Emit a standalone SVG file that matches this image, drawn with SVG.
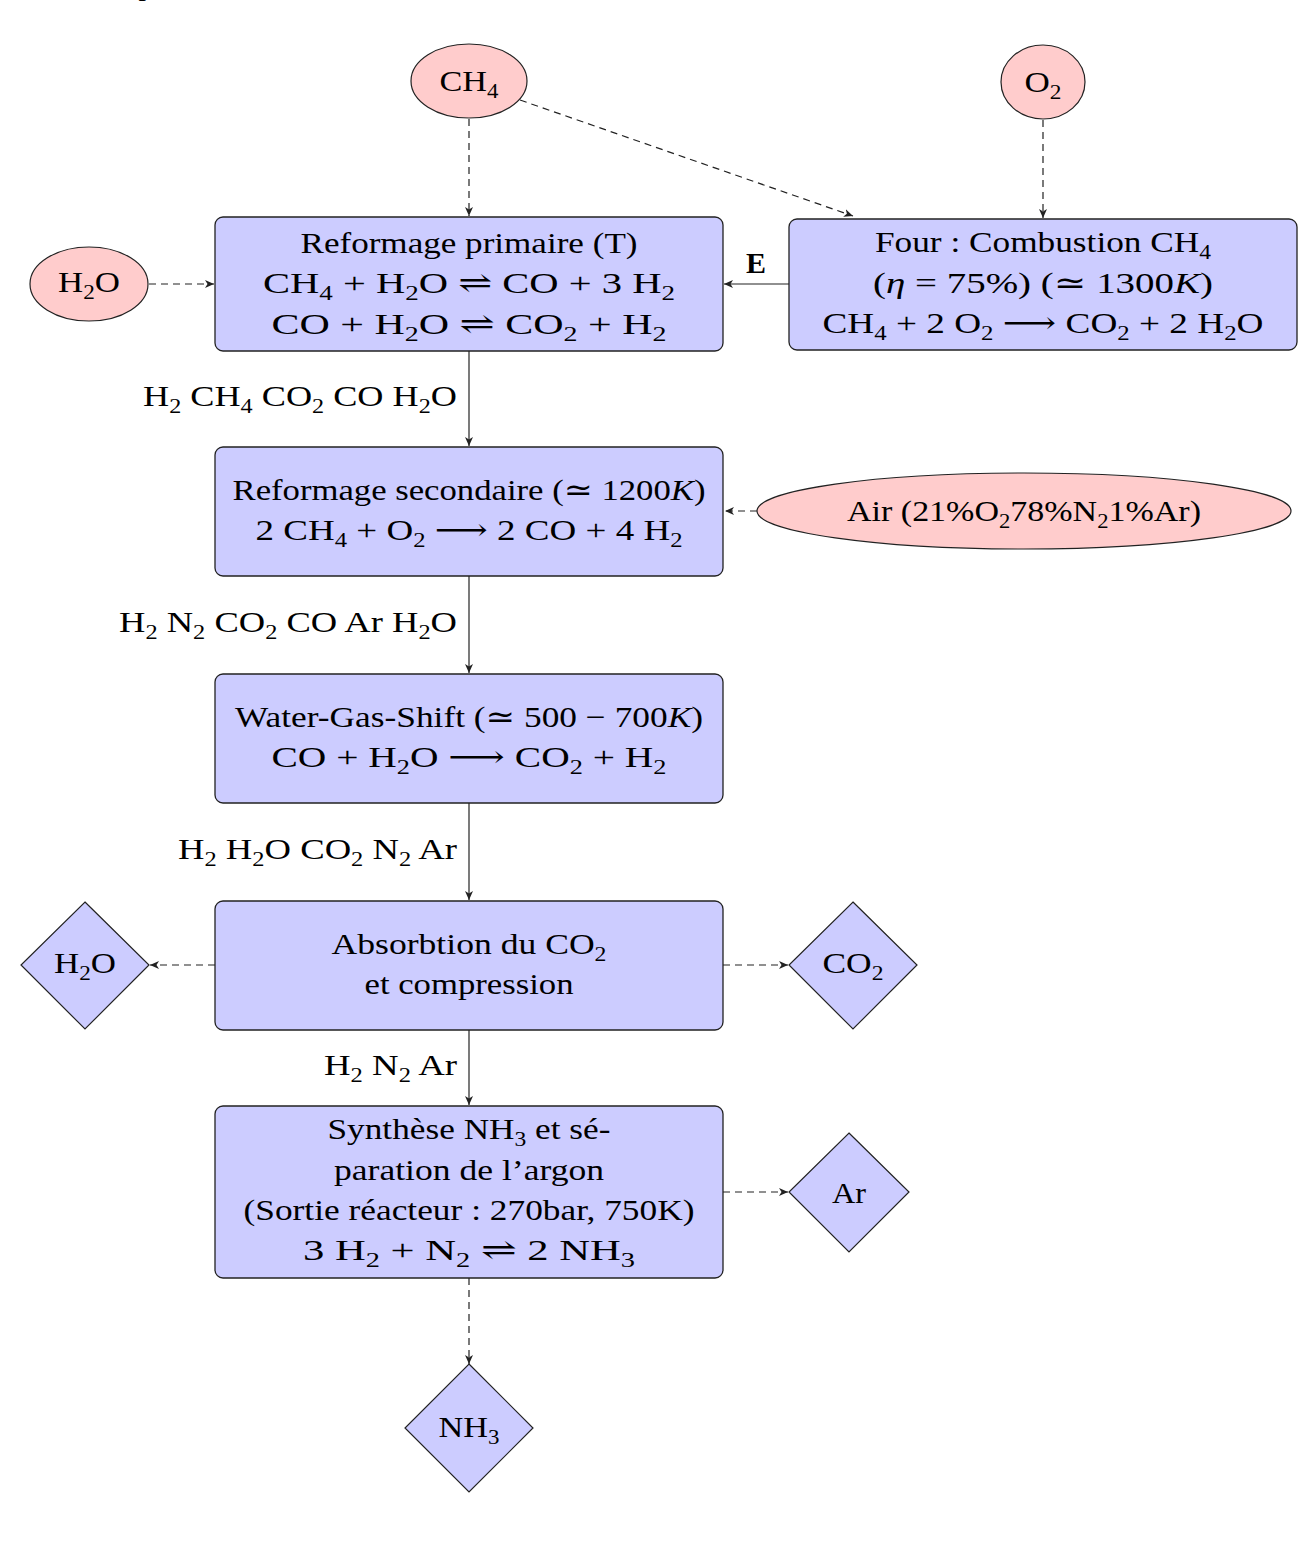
<svg xmlns="http://www.w3.org/2000/svg" width="1310" height="1556" viewBox="0 0 1310 1556">
<style>
.t{font-family:"Liberation Serif","DejaVu Serif",serif;font-size:30px;fill:#000;text-anchor:middle}
.e{text-anchor:end}
.s{font-size:20px}
.b{font-weight:bold}
.box{fill:#ccccff;stroke:#222;stroke-width:1.3}
.src{fill:#ffcccc;stroke:#222;stroke-width:1.2}
.out{fill:#ccccff;stroke:#222;stroke-width:1.2}
.ln{stroke:#222;stroke-width:1.2;fill:none;marker-end:url(#ah)}
.d{stroke-dasharray:7 5}
</style>
<defs>
<marker id="ah" markerUnits="userSpaceOnUse" markerWidth="10" markerHeight="8" refX="9" refY="4" orient="auto">
<path d="M0,0 L9,4 L0,8 L2.5,4 Z" fill="#222"/>
</marker>
</defs>
<rect width="1310" height="1556" fill="#fff"/>
<text class="t" x="146" y="-5">p</text>

<g id="connectors">
<line class="ln d" x1="469" y1="119" x2="469" y2="216"/>
<line class="ln d" x1="520" y1="100" x2="853" y2="216"/>
<line class="ln d" x1="1043" y1="120" x2="1043" y2="218"/>
<line class="ln d" x1="149" y1="284" x2="214" y2="284"/>
<line class="ln" x1="789" y1="284" x2="724" y2="284"/>
<text class="t b" x="756" y="273">E</text>
<line class="ln" x1="469" y1="351" x2="469" y2="446"/>
<text class="t e" x="457" y="406" textLength="314" lengthAdjust="spacingAndGlyphs">H<tspan class="s" dy="7">2</tspan><tspan dy="-7"> CH</tspan><tspan class="s" dy="7">4</tspan><tspan dy="-7"> CO</tspan><tspan class="s" dy="7">2</tspan><tspan dy="-7"> CO H</tspan><tspan class="s" dy="7">2</tspan><tspan dy="-7">O</tspan></text>
<line class="ln d" x1="757" y1="511" x2="725" y2="511"/>
<line class="ln" x1="469" y1="576" x2="469" y2="673"/>
<text class="t e" x="457" y="632" textLength="338" lengthAdjust="spacingAndGlyphs">H<tspan class="s" dy="7">2</tspan><tspan dy="-7"> N</tspan><tspan class="s" dy="7">2</tspan><tspan dy="-7"> CO</tspan><tspan class="s" dy="7">2</tspan><tspan dy="-7"> CO Ar H</tspan><tspan class="s" dy="7">2</tspan><tspan dy="-7">O</tspan></text>
<line class="ln" x1="469" y1="803" x2="469" y2="900"/>
<text class="t e" x="457" y="859" textLength="279" lengthAdjust="spacingAndGlyphs">H<tspan class="s" dy="7">2</tspan><tspan dy="-7"> H</tspan><tspan class="s" dy="7">2</tspan><tspan dy="-7">O CO</tspan><tspan class="s" dy="7">2</tspan><tspan dy="-7"> N</tspan><tspan class="s" dy="7">2</tspan><tspan dy="-7"> Ar</tspan></text>
<line class="ln d" x1="215" y1="965" x2="150" y2="965"/>
<line class="ln d" x1="723" y1="965" x2="788" y2="965"/>
<line class="ln" x1="469" y1="1030" x2="469" y2="1105"/>
<text class="t e" x="457" y="1075" textLength="133" lengthAdjust="spacingAndGlyphs">H<tspan class="s" dy="7">2</tspan><tspan dy="-7"> N</tspan><tspan class="s" dy="7">2</tspan><tspan dy="-7"> Ar</tspan></text>
<line class="ln d" x1="723" y1="1192" x2="788" y2="1192"/>
<line class="ln d" x1="469" y1="1278" x2="469" y2="1364"/>
</g>

<g id="ch4">
<ellipse class="src" cx="469" cy="81" rx="58" ry="37"/>
<text class="t" x="469" y="91" textLength="59" lengthAdjust="spacingAndGlyphs">CH<tspan class="s" dy="7">4</tspan></text>
</g>
<g id="o2">
<ellipse class="src" cx="1043" cy="82" rx="42" ry="37"/>
<text class="t" x="1043" y="92" textLength="37" lengthAdjust="spacingAndGlyphs">O<tspan class="s" dy="7">2</tspan></text>
</g>
<g id="h2o-in">
<ellipse class="src" cx="89" cy="284" rx="59" ry="37"/>
<text class="t" x="89" y="292" textLength="62" lengthAdjust="spacingAndGlyphs">H<tspan class="s" dy="7">2</tspan><tspan dy="-7">O</tspan></text>
</g>

<g id="primaire">
<rect class="box" x="215" y="217" width="508" height="134" rx="8"/>
<text class="t" x="469" y="253" textLength="337" lengthAdjust="spacingAndGlyphs">Reformage primaire (T)</text>
<text class="t" x="469" y="293" textLength="412" lengthAdjust="spacingAndGlyphs">CH<tspan class="s" dy="7">4</tspan><tspan dy="-7"> + H</tspan><tspan class="s" dy="7">2</tspan><tspan dy="-7">O ⇌ CO + 3 H</tspan><tspan class="s" dy="7">2</tspan></text>
<text class="t" x="469" y="334" textLength="395" lengthAdjust="spacingAndGlyphs">CO + H<tspan class="s" dy="7">2</tspan><tspan dy="-7">O ⇌ CO</tspan><tspan class="s" dy="7">2</tspan><tspan dy="-7"> + H</tspan><tspan class="s" dy="7">2</tspan></text>
</g>

<g id="four">
<rect class="box" x="789" y="219" width="508" height="131" rx="8"/>
<text class="t" x="1043" y="252" textLength="336" lengthAdjust="spacingAndGlyphs">Four : Combustion CH<tspan class="s" dy="7">4</tspan></text>
<text class="t" x="1043" y="293" textLength="340" lengthAdjust="spacingAndGlyphs">(<tspan font-style="italic">η</tspan> = 75%) (≃ 1300<tspan font-style="italic">K</tspan>)</text>
<text class="t" x="1043" y="333" textLength="441" lengthAdjust="spacingAndGlyphs">CH<tspan class="s" dy="7">4</tspan><tspan dy="-7"> + 2 O</tspan><tspan class="s" dy="7">2</tspan><tspan dy="-7"> ⟶ CO</tspan><tspan class="s" dy="7">2</tspan><tspan dy="-7"> + 2 H</tspan><tspan class="s" dy="7">2</tspan><tspan dy="-7">O</tspan></text>
</g>

<g id="secondaire">
<rect class="box" x="215" y="447" width="508" height="129" rx="8"/>
<text class="t" x="469" y="500" textLength="473" lengthAdjust="spacingAndGlyphs">Reformage secondaire (≃ 1200<tspan font-style="italic">K</tspan>)</text>
<text class="t" x="469" y="540" textLength="427" lengthAdjust="spacingAndGlyphs">2 CH<tspan class="s" dy="7">4</tspan><tspan dy="-7"> + O</tspan><tspan class="s" dy="7">2</tspan><tspan dy="-7"> ⟶ 2 CO + 4 H</tspan><tspan class="s" dy="7">2</tspan></text>
</g>

<g id="air">
<ellipse class="src" cx="1024" cy="511" rx="267" ry="38"/>
<text class="t" x="1024" y="521" textLength="354" lengthAdjust="spacingAndGlyphs">Air (21%O<tspan class="s" dy="7">2</tspan><tspan dy="-7">78%N</tspan><tspan class="s" dy="7">2</tspan><tspan dy="-7">1%Ar)</tspan></text>
</g>

<g id="wgs">
<rect class="box" x="215" y="674" width="508" height="129" rx="8"/>
<text class="t" x="469" y="727" textLength="468" lengthAdjust="spacingAndGlyphs">Water-Gas-Shift (≃ 500 − 700<tspan font-style="italic">K</tspan>)</text>
<text class="t" x="469" y="767" textLength="395" lengthAdjust="spacingAndGlyphs">CO + H<tspan class="s" dy="7">2</tspan><tspan dy="-7">O ⟶ CO</tspan><tspan class="s" dy="7">2</tspan><tspan dy="-7"> + H</tspan><tspan class="s" dy="7">2</tspan></text>
</g>

<g id="absorption">
<rect class="box" x="215" y="901" width="508" height="129" rx="8"/>
<text class="t" x="469" y="954" textLength="275" lengthAdjust="spacingAndGlyphs">Absorbtion du CO<tspan class="s" dy="7">2</tspan></text>
<text class="t" x="469" y="994" textLength="209" lengthAdjust="spacingAndGlyphs">et compression</text>
</g>

<g id="h2o-out">
<polygon class="out" points="85,902 149,965 85,1029 21,965"/>
<text class="t" x="85" y="973" textLength="62" lengthAdjust="spacingAndGlyphs">H<tspan class="s" dy="7">2</tspan><tspan dy="-7">O</tspan></text>
</g>
<g id="co2-out">
<polygon class="out" points="853,902 917,965 853,1029 789,965"/>
<text class="t" x="853" y="973" textLength="61" lengthAdjust="spacingAndGlyphs">CO<tspan class="s" dy="7">2</tspan></text>
</g>

<g id="synthese">
<rect class="box" x="215" y="1106" width="508" height="172" rx="8"/>
<text class="t" x="469" y="1139" textLength="283" lengthAdjust="spacingAndGlyphs">Synthèse NH<tspan class="s" dy="7">3</tspan><tspan dy="-7"> et sé-</tspan></text>
<text class="t" x="469" y="1180" textLength="270" lengthAdjust="spacingAndGlyphs">paration de l’argon</text>
<text class="t" x="469" y="1220" textLength="451" lengthAdjust="spacingAndGlyphs">(Sortie réacteur : 270bar, 750K)</text>
<text class="t" x="469" y="1260" textLength="332" lengthAdjust="spacingAndGlyphs">3 H<tspan class="s" dy="7">2</tspan><tspan dy="-7"> + N</tspan><tspan class="s" dy="7">2</tspan><tspan dy="-7"> ⇌ 2 NH</tspan><tspan class="s" dy="7">3</tspan></text>
</g>

<g id="ar-out">
<polygon class="out" points="849,1133 909,1192 849,1252 789,1192"/>
<text class="t" x="849" y="1203" textLength="34" lengthAdjust="spacingAndGlyphs">Ar</text>
</g>

<g id="nh3-out">
<polygon class="out" points="469,1364 533,1428 469,1492 405,1428"/>
<text class="t" x="469" y="1437" textLength="61" lengthAdjust="spacingAndGlyphs">NH<tspan class="s" dy="7">3</tspan></text>
</g>
</svg>
